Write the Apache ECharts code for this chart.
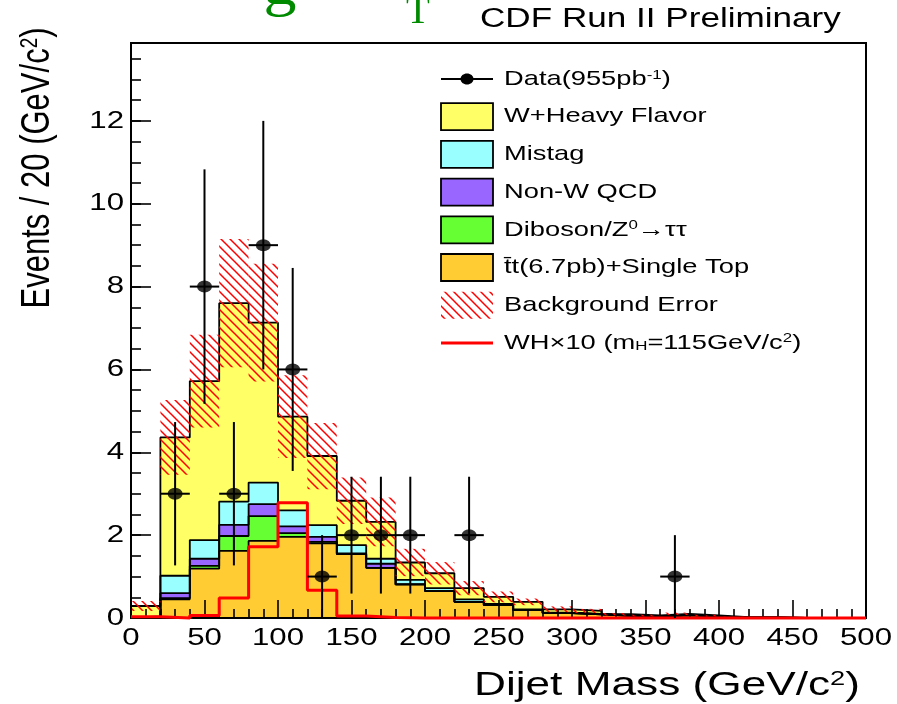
<!DOCTYPE html>
<html><head><meta charset="utf-8">
<script src="https://cdn.jsdelivr.net/npm/echarts@6/dist/echarts.min.js"></script>
<style>html,body{margin:0;padding:0;background:#fff}#c{width:897px;height:704px}</style>
</head><body><div id="c"></div>
<script>
// ---------------- data ----------------
const binStart = [0,20,40,60,80,100,120,140,160,180,200,220,240,260,280,300,320,340,360,380,400,420,440,460,480];
const binWidth = 20;
const ttbar        = [0.00,0.45,1.19,1.62,1.86,1.96,1.80,1.54,1.21,0.81,0.65,0.39,0.31,0.19,0.12,0.09,0.05,0.04,0.07,0.04,0.01,0.01,0.00,0.00,0.00];
const diboson      = [0.00,0.03,0.07,0.36,0.60,0.09,0.04,0.00,0.00,0.00,0.00,0.00,0.00,0.00,0.00,0.00,0.00,0.00,0.00,0.00,0.00,0.00,0.00,0.00,0.00];
const nonWQCD      = [0.00,0.12,0.17,0.27,0.29,0.16,0.12,0.02,0.10,0.00,0.00,0.00,0.00,0.00,0.00,0.00,0.00,0.00,0.00,0.00,0.00,0.00,0.00,0.00,0.00];
const mistag       = [0.04,0.42,0.45,0.56,0.52,0.39,0.28,0.20,0.12,0.11,0.07,0.06,0.03,0.02,0.01,0.01,0.01,0.00,0.00,0.00,0.00,0.00,0.00,0.00,0.00];
const wHeavyFlavor = [0.25,3.34,3.84,4.79,3.86,2.26,1.67,1.07,0.89,0.42,0.36,0.27,0.17,0.18,0.08,0.07,0.03,0.02,0.03,0.02,0.01,0.01,0.00,0.00,0.00];
const bkgError     = [0.12,0.90,1.12,1.55,1.42,1.00,0.80,0.56,0.59,0.33,0.27,0.17,0.13,0.08,0.07,0.05,0.03,0.02,0.03,0.02,0.01,0.00,0.00,0.00,0.00];
const whSignal     = [0.03,0.00,0.06,0.48,1.72,2.78,0.67,0.05,0.01,0.00,0.00,0.00,0.00,0.00,0.00,0.00,0.00,0.00,0.00,0.00,0.00,0.00,0.00,0.00,0.00];
const dataMass   = [30,50,70,90,110,130,150,170,190,230,370];
const dataEvents = [3,8,3,9,6,1,2,2,2,2,1];
const dataErr    = [1.73,2.83,1.73,3.00,2.45,1.00,1.41,1.41,1.41,1.41,1.00];
const xTickLabels = [0,50,100,150,200,250,300,350,400,450,500];
const yTickLabels = [0,2,4,6,8,10,12];
const xMax = 500, yMax = 13.88;

// ---------------- style ----------------
const FONT = '"Liberation Sans", Arial, Helvetica, sans-serif';
const SERIF = '"Liberation Serif", "DejaVu Serif", serif';
const SX = 1.3;
const colors = {ttbar:'#ffcc33', diboson:'#66ff33', nonW:'#9966ff', mistag:'#99ffff', whf:'#ffff66'};

function makeHatch(){
  const c = document.createElement('canvas'); c.width = 9; c.height = 9;
  const g = c.getContext('2d');
  g.strokeStyle = '#ff0000'; g.lineWidth = 1.5;
  g.beginPath();
  g.moveTo(-1,-1); g.lineTo(10,10);
  g.moveTo(-1,8); g.lineTo(1,10);
  g.moveTo(8,-1); g.lineTo(10,1);
  g.stroke();
  return c;
}
const hatch = makeHatch();

// cumulative stack levels (bottom -> top)
const comps = [
  {key:'ttbar', v:ttbar}, {key:'diboson', v:diboson}, {key:'nonW', v:nonWQCD},
  {key:'mistag', v:mistag}, {key:'whf', v:wHeavyFlavor}
];
let base = binStart.map(()=>0);
comps.forEach(c => { c.hi = base.map((b,i)=>b + c.v[i]); base = c.hi; });
const total = base;

function stepData(levels){
  const d = [[0,0]];
  binStart.forEach((x,i)=>d.push([x, levels[i]]));
  d.push([xMax, levels[levels.length-1]]);
  d.push([xMax, 0]);
  return d;
}

const series = [];
// draw cumulative histograms from top (largest) to bottom
comps.slice().reverse().forEach(c => {
  series.push({
    type:'line', step:'end', symbol:'none', silent:true, z:2, clip:false,
    data: stepData(c.hi),
    lineStyle:{color:'#000', width:1.8},
    areaStyle:{color: colors[c.key], opacity:1, origin:'start'}
  });
});
// background error band (hatched)
series.push({
  type:'custom', silent:true, z:3,
  encode:{x:[0,1], y:[2,3]},
  data: binStart.map((x,i)=>[x, x+binWidth, Math.max(0,total[i]-bkgError[i]), total[i]+bkgError[i]]),
  renderItem:(params, api)=>{
    const a = api.coord([api.value(0), api.value(2)]);
    const b = api.coord([api.value(1), api.value(3)]);
    return {type:'rect', shape:{x:a[0], y:b[1], width:b[0]-a[0], height:a[1]-b[1]},
      style:{fill:{image:hatch, repeat:'repeat'}}};
  }
});
// WH x10 signal
series.push({
  type:'line', step:'end', symbol:'none', silent:true, z:20, clip:false,
  data: binStart.map((x,i)=>[x, whSignal[i]]).concat([[xMax, whSignal[whSignal.length-1]]]),
  lineStyle:{color:'#ff0000', width:3}
});
// data error bars
series.push({
  type:'custom', silent:true, z:21,
  encode:{x:0, y:1},
  data: dataMass.map((m,i)=>[m, dataEvents[i], dataErr[i]]),
  renderItem:(params, api)=>{
    const x = api.value(0), y = api.value(1), e = api.value(2);
    const t = api.coord([x, y+e]), b = api.coord([x, Math.max(0, y-e)]);
    const l = api.coord([x-binWidth/2, y]), r = api.coord([x+binWidth/2, y]);
    return {type:'group', children:[
      {type:'line', shape:{x1:t[0], y1:t[1], x2:b[0], y2:b[1]}, style:{stroke:'#000', lineWidth:2}},
      {type:'line', shape:{x1:l[0], y1:l[1], x2:r[0], y2:r[1]}, style:{stroke:'#000', lineWidth:2}}
    ]};
  }
});
// data points
series.push({
  type:'scatter', silent:true, z:22, symbol:'circle', symbolSize:[15,12],
  itemStyle:{color:'#000'},
  data: dataMass.map((m,i)=>[m, dataEvents[i]])
});

const axisLineStyle = {color:'#000', width:2};
const option = {
  animation:false,
  backgroundColor:'#fff',
  grid:{left:131, right:31, top:43, bottom:86, show:true, borderColor:'#000', borderWidth:2, backgroundColor:'transparent'},
  xAxis:{type:'value', min:0, max:xMax, interval:50, z:10,
    axisLine:{show:true, onZero:false, lineStyle:axisLineStyle},
    axisTick:{show:true, inside:true, length:18, lineStyle:{color:'#000', width:1.6}},
    minorTick:{show:true, splitNumber:5, length:9, lineStyle:{color:'#000', width:1.6}},
    axisLabel:{show:false}, splitLine:{show:false}, minorSplitLine:{show:false}},
  yAxis:[
    {type:'value', min:0, max:yMax, interval:2, position:'left', z:10,
      axisLine:{show:true, onZero:false, lineStyle:axisLineStyle},
      axisTick:{show:true, inside:true, length:20, lineStyle:{color:'#000', width:1.6}},
      axisLabel:{show:false}, splitLine:{show:false}},
    {type:'value', min:0, max:yMax, interval:0.5, position:'left', z:10,
      axisLine:{show:false},
      axisTick:{show:true, inside:true, length:10, lineStyle:{color:'#000', width:1.6}},
      axisLabel:{show:false}, splitLine:{show:false}}
  ],
  series: series
};

const chart = echarts.init(document.getElementById('c'));
chart.setOption(option);

// ---------------- texts ----------------
function txt(x, y, text, size, opts){
  opts = opts || {};
  const rs = opts.richSize || Math.round(size*0.6);
  const rich = {
    sup:{fontSize:rs, fontFamily:FONT, fill:'#000', verticalAlign:'top'},
    sub:{fontSize:rs, fontFamily:FONT, fill:'#000', verticalAlign:'bottom'}
  };
  return {type:'text', x:x, y:y, scaleX: opts.sx !== undefined ? opts.sx : SX, scaleY: opts.sy || 1,
    rotation: opts.rot || 0, z:100, silent:true,
    style:{text:text, fontSize:size, fontFamily:opts.family || FONT, fill:opts.fill || '#000',
      align:opts.align || 'left', verticalAlign:opts.va || 'middle', rich:rich}};
}

const graphics = [];
const xLabY = chart.convertToPixel({yAxisIndex:0}, 0) + 20;
xTickLabels.forEach(v=>{
  graphics.push(txt(chart.convertToPixel({xAxisIndex:0}, v), xLabY, String(v), 24, {align:'center'}));
});
const yLabX = chart.convertToPixel({xAxisIndex:0}, 0) - 7;
yTickLabels.forEach(v=>{
  graphics.push(txt(yLabX, chart.convertToPixel({yAxisIndex:0}, v), String(v), 24, {align:'right'}));
});
// axis titles
graphics.push(txt(860, 686, 'Dijet Mass (GeV/c{sup|2})', 34, {align:'right', richSize:21}));
graphics.push(txt(38, 168, 'Events / 20 (GeV/c{sup|2})', 31, {align:'center', rot:Math.PI/2, sx:1, sy:SX, richSize:19}));
// header
graphics.push(txt(480, 20, 'CDF Run II Preliminary', 27, {}));
// green partial title remnants (cut off by the top edge)
graphics.push({type:'text', x:280, y:-12, scaleX:1.1, silent:true, z:100, style:{text:'g', fontSize:60, fontFamily:SERIF, fill:'#008a00', align:'center', verticalAlign:'middle'}});
graphics.push({type:'text', x:418, y:13, silent:true, z:100, style:{text:'T', fontSize:39, fontFamily:SERIF, fill:'#008a00', align:'center', verticalAlign:'middle'}});

// legend
const lgX = 441, lgW = 52, lgH = 27, txX = 504;
const rows = [79, 116.7, 154.4, 192.1, 229.8, 267.5, 305.2, 342.9];
graphics.push({type:'line', z:100, silent:true, shape:{x1:lgX, y1:rows[0], x2:lgX+lgW, y2:rows[0]}, style:{stroke:'#000', lineWidth:2}});
graphics.push({type:'ellipse', z:101, silent:true, shape:{cx:lgX+lgW/2, cy:rows[0], rx:6.5, ry:5.5}, style:{fill:'#000'}});
graphics.push(txt(txX, rows[0], 'Data(955pb{sup|-1})', 21, {richSize:13}));
const boxes = [
  [colors.whf, 'W+Heavy Flavor'],
  [colors.mistag, 'Mistag'],
  [colors.nonW, 'Non-W QCD'],
  [colors.diboson, 'Diboson/Z{sup|0}\u2192\u03c4\u03c4'],
  [colors.ttbar, 't\u0304t(6.7pb)+Single Top']
];
boxes.forEach((b,i)=>{
  const cy = rows[i+1];
  graphics.push({type:'rect', z:100, silent:true, shape:{x:lgX, y:cy-lgH/2, width:lgW, height:lgH}, style:{fill:b[0], stroke:'#000', lineWidth:1.8}});
  graphics.push(txt(txX, cy, b[1], 21, {richSize:13}));
});
graphics.push({type:'rect', z:100, silent:true, shape:{x:lgX, y:rows[6]-lgH/2, width:lgW, height:lgH}, style:{fill:{image:hatch, repeat:'repeat'}}});
graphics.push(txt(txX, rows[6], 'Background Error', 21, {}));
graphics.push({type:'line', z:100, silent:true, shape:{x1:lgX, y1:rows[7], x2:lgX+lgW, y2:rows[7]}, style:{stroke:'#ff0000', lineWidth:3}});
graphics.push(txt(txX, rows[7], 'WH\u00d710 (m{sub|H}=115GeV/c{sup|2})', 21, {richSize:13}));

chart.setOption({graphic: graphics});
</script></body></html>
